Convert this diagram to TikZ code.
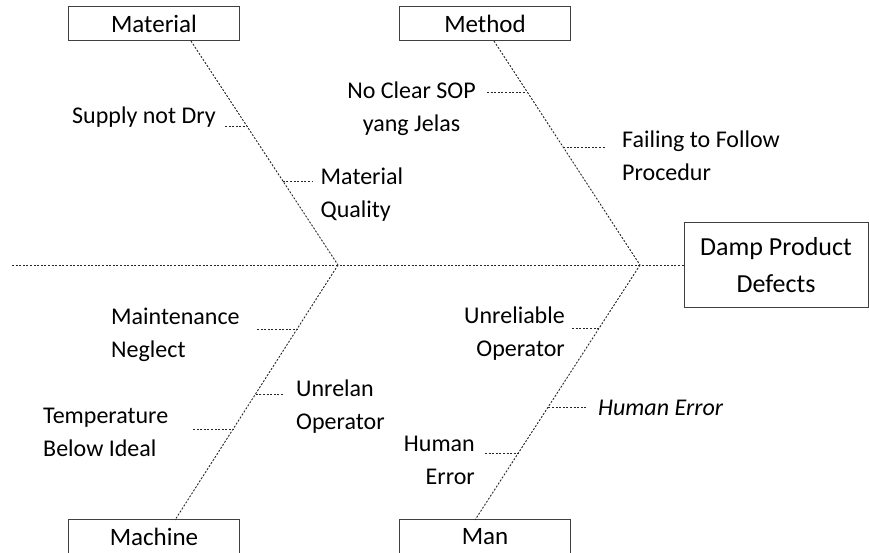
\documentclass[tikz,border=0pt]{standalone}
\usepackage{fontspec}
\setmainfont{Carlito}
\usetikzlibrary{calc}
\begin{document}
\begin{tikzpicture}[x=1pt,y=-1pt,
  lbl/.style={inner sep=0pt, font=\fontsize{24}{33}\selectfont, text=black},
  catbox/.style={draw=black!75, line width=1pt, minimum width=171pt, minimum height=34pt, inner sep=0pt, font=\fontsize{25}{30}\selectfont, text=black},
  effbox/.style={draw=black!75, line width=1pt, minimum width=184pt, minimum height=84pt, inner sep=0pt, align=center, font=\fontsize{26}{36.7}\selectfont, text=black},
  bone/.style={draw=black!85, line width=0.9pt, dash pattern=on 2pt off 1.6pt},
  sub/.style={draw=black!85, line width=0.9pt, dash pattern=on 2pt off 1.6pt}]
\useasboundingbox (0,0) rectangle (869,553);

% category and effect boxes
\node[catbox] (mat) at (154,24) {Material};
\node[catbox] (met) at (485,24) {Method};
\node[catbox] (mac) at (154,536.5) {Machine};
\node[catbox] (man) at (485,536.5) {Man};
\node[effbox] (eff) at (776,265) {Damp Product\\Defects};

% bone ends and junctions
\coordinate (matb) at (191,41);
\coordinate (metb) at (494,41);
\coordinate (macb) at (175,520);
\coordinate (manb) at (475,520);
\coordinate (j1) at (338,265);
\coordinate (j2) at (640,265);
\coordinate (tail) at (12,265);

% spine and bones
\draw[bone] (tail) -- (eff.west);
\draw[bone] (matb) -- (j1);
\draw[bone] (metb) -- (j2);
\draw[bone] (j1) -- (macb);
\draw[bone] (j2) -- (manb);

% cause labels (base anchor = baseline of the last line)
\node[lbl, anchor=base west] (supply) at (72,123.5) {Supply not Dry};
\node[lbl, anchor=base west, align=left] (matq) at (320.5,217.3) {Material\\Quality};
\node[lbl, anchor=base, align=center] (sop) at (411.5,131.3) {No Clear SOP\\yang Jelas};
\node[lbl, anchor=base west, align=left] (fail) at (622,180.5) {Failing to Follow\\Procedur};
\node[lbl, anchor=base west, align=left] (maint) at (111,357.3) {Maintenance\\Neglect};
\node[lbl, anchor=base west, align=left] (unrelan) at (296,429) {Unrelan\\Operator};
\node[lbl, anchor=base west, align=left] (temp) at (43,456.3) {Temperature\\Below Ideal};
\node[lbl, anchor=base east, align=right] (unrel) at (565,356.3) {Unreliable\\Operator};
\node[lbl, anchor=base west, font=\fontsize{24}{33}\selectfont\itshape] (herr) at (598,415) {Human Error};
\node[lbl, anchor=base east, align=right] (herr2) at (475,484.7) {Human\\Error};

% points on bones
\coordinate (p1) at ($(matb)!0.379!(j1)$);
\coordinate (p2) at ($(matb)!0.625!(j1)$);
\coordinate (p3) at ($(metb)!0.230!(j2)$);
\coordinate (p4) at ($(metb)!0.473!(j2)$);
\coordinate (p5) at ($(j1)!0.250!(macb)$);
\coordinate (p6) at ($(j1)!0.504!(macb)$);
\coordinate (p7) at ($(j1)!0.641!(macb)$);
\coordinate (p8) at ($(j2)!0.246!(manb)$);
\coordinate (p9) at ($(j2)!0.555!(manb)$);
\coordinate (p10) at ($(j2)!0.734!(manb)$);

% free ends of sub-branches
\coordinate (q1) at (225,126);
\coordinate (q2) at (312,181);
\coordinate (q3) at (487,92.5);
\coordinate (q4) at (605,147);
\coordinate (q5) at (257,329);
\coordinate (q6) at (283,394);
\coordinate (q7) at (193,429);
\coordinate (q8) at (572,328);
\coordinate (q9) at (587,407);
\coordinate (q10) at (485,453);

\draw[sub] (q1) -- (p1 |- q1);
\draw[sub] (p2 |- q2) -- (q2);
\draw[sub] (q3) -- (p3 |- q3);
\draw[sub] (p4 |- q4) -- (q4);
\draw[sub] (q5) -- (p5 |- q5);
\draw[sub] (p6 |- q6) -- (q6);
\draw[sub] (q7) -- (p7 |- q7);
\draw[sub] (q8) -- (p8 |- q8);
\draw[sub] (p9 |- q9) -- (q9);
\draw[sub] (q10) -- (p10 |- q10);
\end{tikzpicture}
\end{document}
